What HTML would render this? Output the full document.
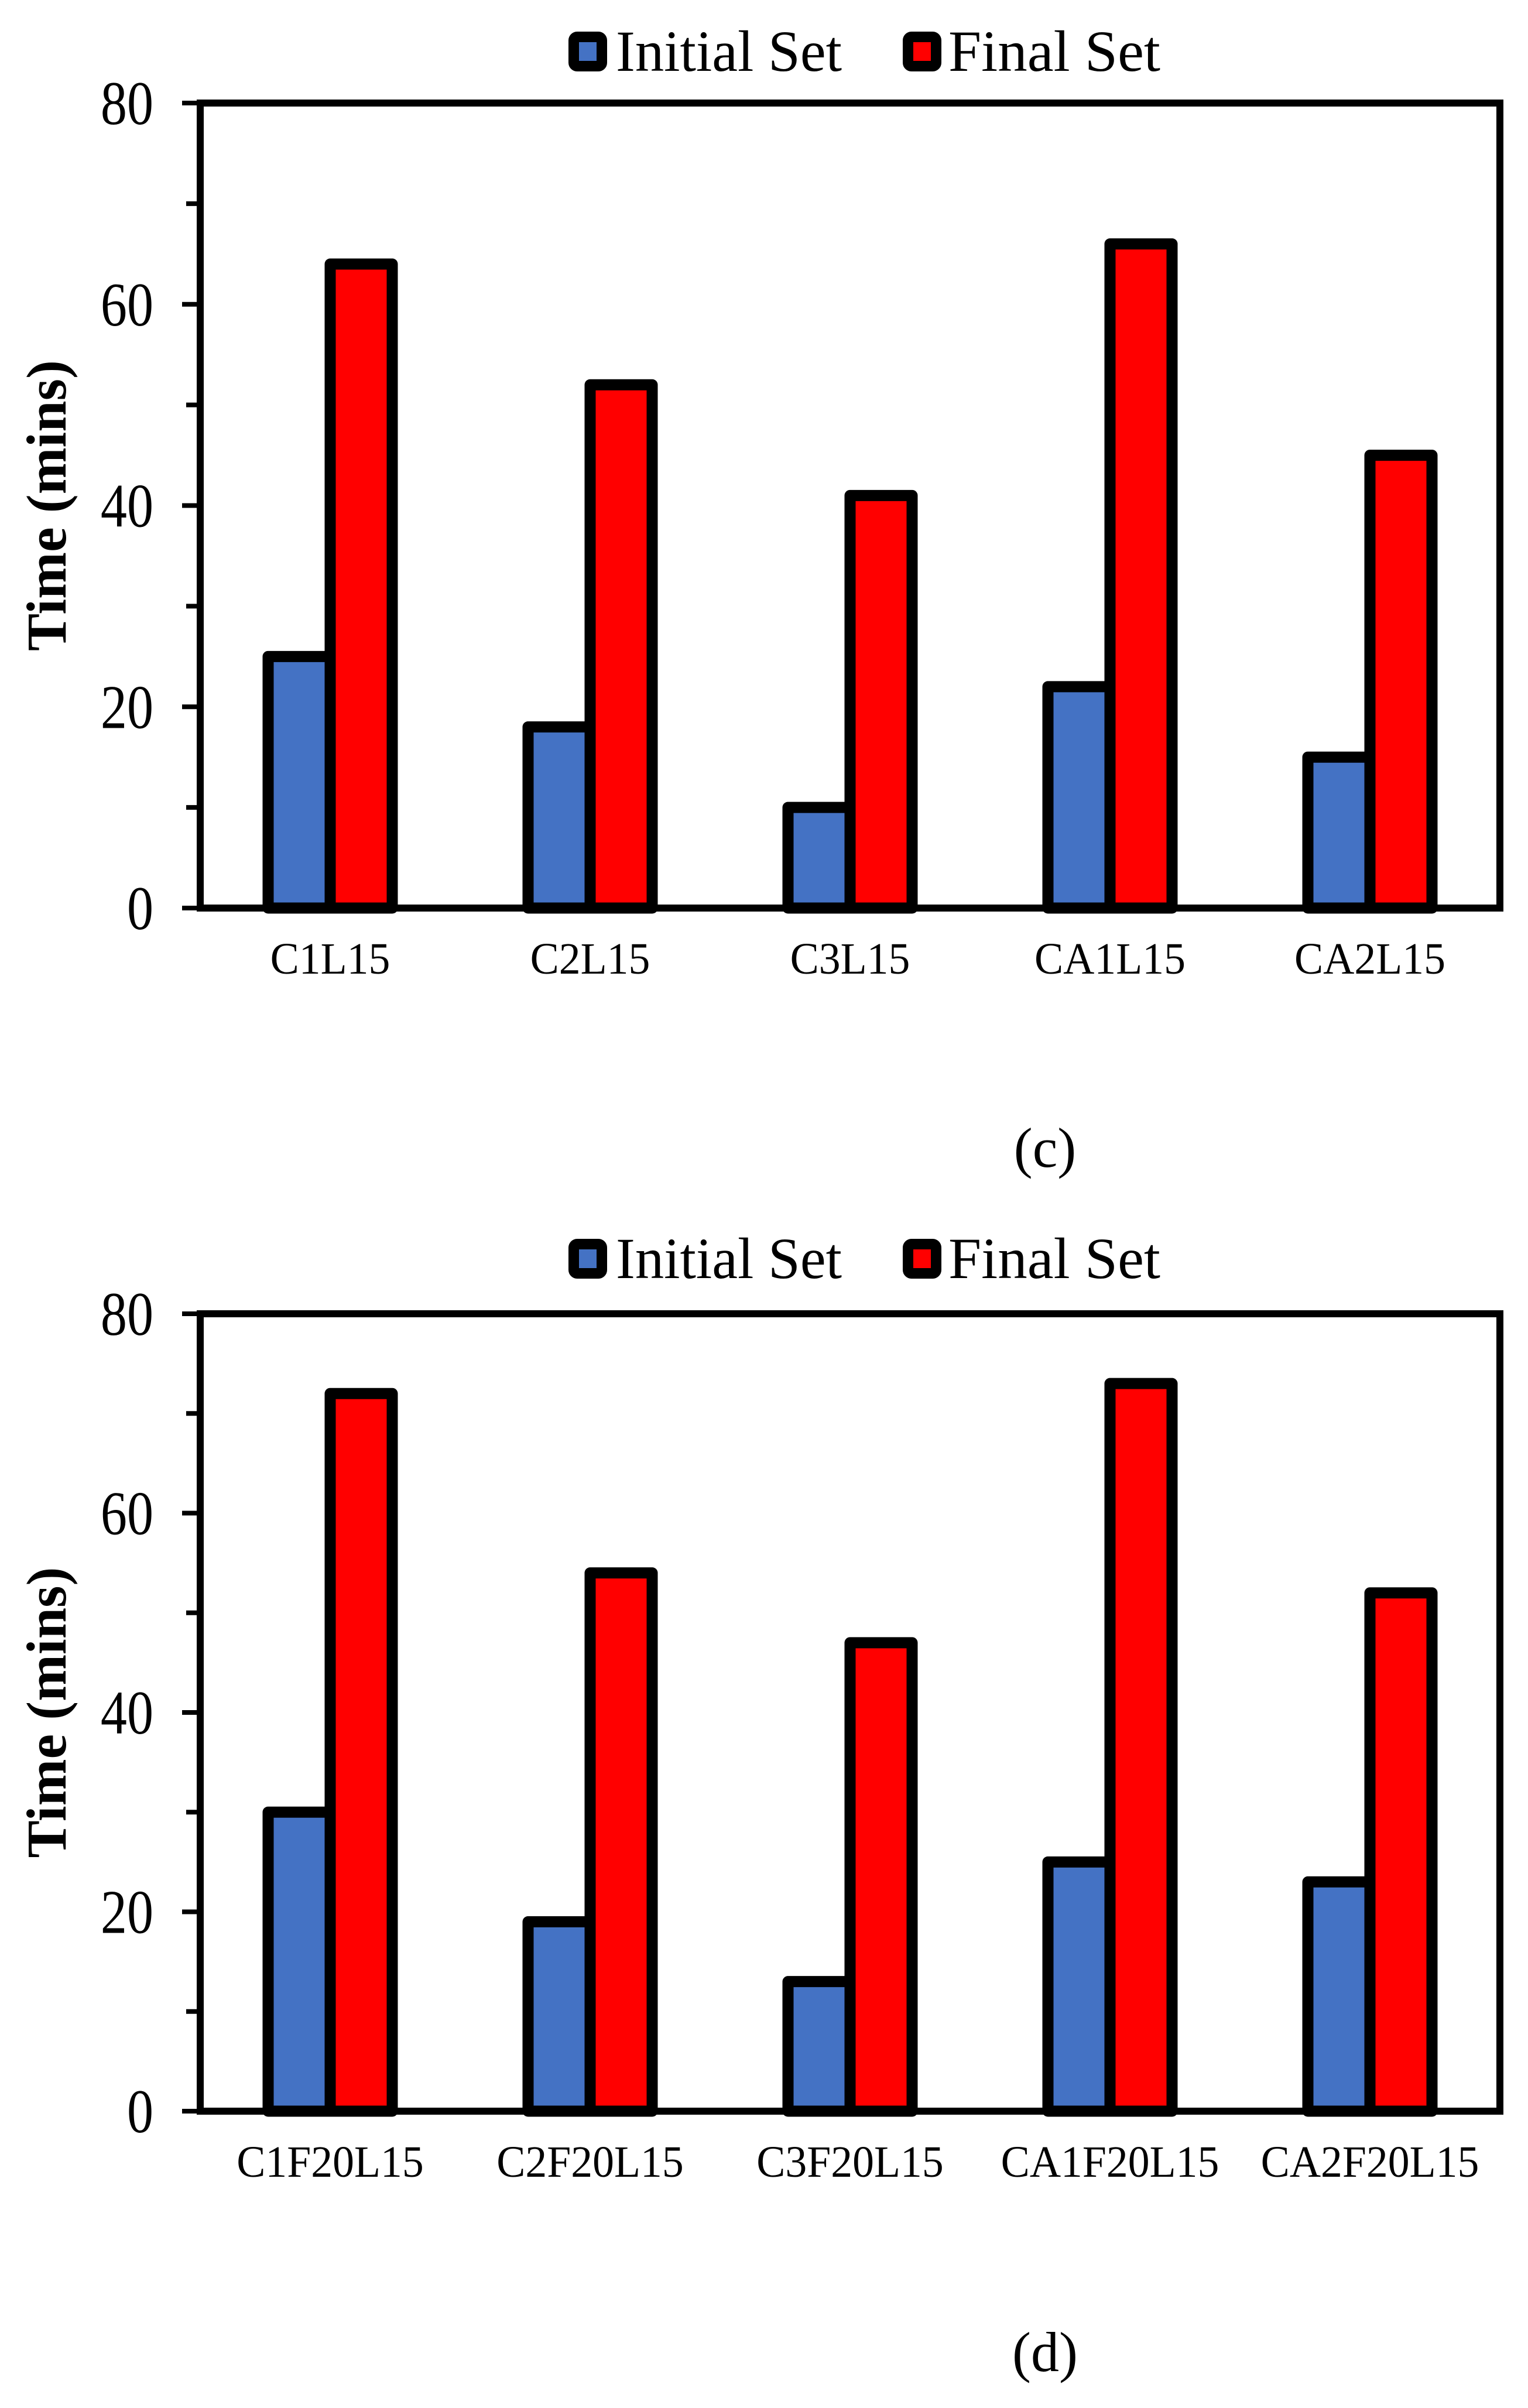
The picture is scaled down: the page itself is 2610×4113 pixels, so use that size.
<!DOCTYPE html>
<html><head><meta charset="utf-8"><style>
html,body{margin:0;padding:0;background:#fff;}
svg{display:block;}
text{font-family:"Liberation Serif",serif;fill:#000;}
</style></head><body>
<svg id="fig" width="2610" height="4113" viewBox="0 0 2610 4113" xmlns="http://www.w3.org/2000/svg"></svg>
<script>
const categoriesC = ["C1L15","C2L15","C3L15","CA1L15","CA2L15"];
const initialC = [25,18,10,22,15];
const finalC = [64,52,41,66,45];
const categoriesD = ["C1F20L15","C2F20L15","C3F20L15","CA1F20L15","CA2F20L15"];
const initialD = [30,19,13,25,23];
const finalD = [72,54,47,73,52];
const yTicks = [0,20,40,60,80];
const yMinor = [10,30,50,70];
const panelLabels = ["(c)","(d)"];

const NS="http://www.w3.org/2000/svg";
const svg=document.getElementById('fig');
function mk(tag,attrs,parent){const e=document.createElementNS(NS,tag);for(const k in attrs)e.setAttribute(k,attrs[k]);(parent||svg).appendChild(e);return e;}

function drawChart(yTop, yBot, legY, cats, ini, fin, panel, labelY, panelY){
  const g=mk('g',{});
  
  
  const x0=342,x1=2562;
  const y=v=>yBot-(v/80)*(yBot-yTop);
  const band=(x1-x0)/cats.length;
  const cx=i=>x0+band*(i+0.5);
  const bw=106;
  cats.forEach((c,i)=>{
    const b=mk('rect',{x:cx(i)-bw,y:y(ini[i]),width:bw,height:yBot-y(ini[i]),fill:'#4472C4',stroke:'#000','stroke-width':19,'stroke-linejoin':'round'},g);
    
    
    const r=mk('rect',{x:cx(i),y:y(fin[i]),width:bw,height:yBot-y(fin[i]),fill:'#FF0000',stroke:'#000','stroke-width':19,'stroke-linejoin':'round'},g);
    
    
    const t=mk('text',{x:0,y:0,'text-anchor':'middle','font-size':76,transform:'translate('+cx(i)+','+labelY+') scale(0.97,1)'},g);
    t.textContent=c;
    
    
  });
  const f=mk('rect',{x:x0,y:yTop,width:x1-x0,height:yBot-yTop,fill:'none',stroke:'#000','stroke-width':12},g);
  
  
  yTicks.forEach(v=>{
    const l=mk('line',{x1:311,x2:x0,y1:y(v),y2:y(v),stroke:'#000','stroke-width':8},g);
    
    
    const t=mk('text',{x:0,y:0,'text-anchor':'end','font-size':106,transform:'translate(262,'+(y(v)+36)+') scale(0.85,1)'},g);
    t.textContent=v;
    
    
  });
  yMinor.forEach(v=>{
    const l=mk('line',{x1:318,x2:x0,y1:y(v),y2:y(v),stroke:'#000','stroke-width':8},g);
    
    
  });
  const yt=mk('text',{x:0,y:0,'text-anchor':'middle','font-size':96,'font-weight':'bold',transform:'translate(112,'+((yTop+yBot)/2)+') rotate(-90)'},g);
  yt.textContent='Time (mins)';
  
  
  const ly=legY;
  const s1=mk('rect',{x:980,y:ly-25,width:48,height:50,rx:6,fill:'#4472C4',stroke:'#000','stroke-width':18},g);
  
  
  const t1=mk('text',{x:1052,y:ly+33,'font-size':100,textLength:386,lengthAdjust:'spacingAndGlyphs'},g);
  t1.textContent='Initial Set';
  
  
  const s2=mk('rect',{x:1551,y:ly-25,width:48,height:50,rx:6,fill:'#FF0000',stroke:'#000','stroke-width':18},g);
  
  
  const t2=mk('text',{x:1620,y:ly+33,'font-size':100,textLength:362,lengthAdjust:'spacingAndGlyphs'},g);
  t2.textContent='Final Set';
  
  
  const pl=mk('text',{x:1785,y:panelY,'text-anchor':'middle','font-size':96},g);
  pl.textContent=panel;
  
  
}
drawChart(176,1551,88,categoriesC,initialC,finalC,panelLabels[0],1663,1993);
drawChart(2244,3606,2150,categoriesD,initialD,finalD,panelLabels[1],3718,4050);
</script>
</body></html>
